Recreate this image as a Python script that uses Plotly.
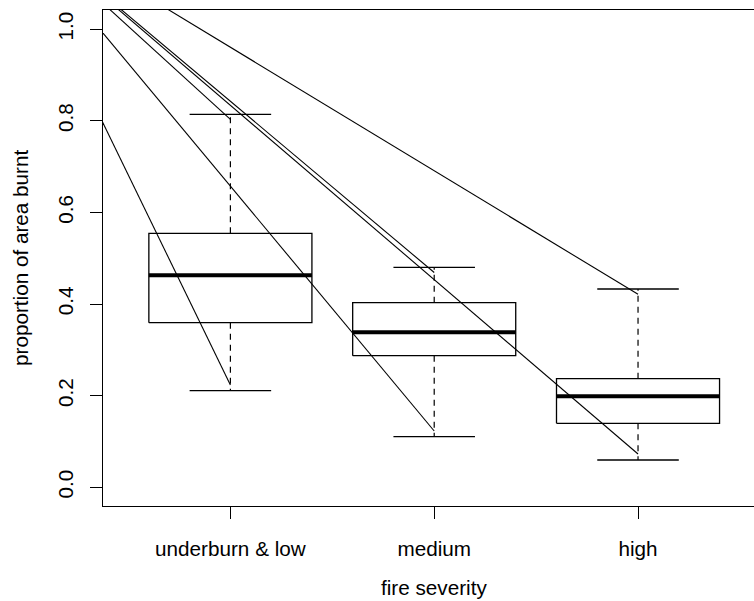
import plotly.graph_objects as go

# ---- data ----
categories = ["underburn & low", "medium", "high"]
positions = [1, 2, 3]
q1 = [0.3593, 0.2873, 0.1397]
medians = [0.4628, 0.3384, 0.1986]
q3 = [0.5545, 0.4030, 0.2371]
whisker_low = [0.2109, 0.1105, 0.0596]
whisker_high = [0.8142, 0.4802, 0.4329]

# overlaid straight lines: start (x0, y0) -> end (x1, y1)
seg_x0 = [0, 0, 0, 0, 0, 0]
seg_y0 = [1.1386, 1.1920, 1.2085, 1.2163, 1.2145, 1.2303]
seg_x1 = [1, 2, 1, 2, 3, 3]
seg_y1 = [0.2233, 0.1229, 0.8033, 0.4689, 0.0727, 0.4213]

y_ticks = [0.0, 0.2, 0.4, 0.6, 0.8, 1.0]

# ---- style ----
BOX_HALF = 0.4
CAP_HALF = 0.2
FONT = "Liberation Sans, Arial, Helvetica, sans-serif"
FS = 20.7
INK = "black"

fig = go.Figure()

# boxes
bx, by = [], []
for p, a, b in zip(positions, q1, q3):
    bx += [p - BOX_HALF, p + BOX_HALF, p + BOX_HALF, p - BOX_HALF, p - BOX_HALF, None]
    by += [a, a, b, b, a, None]
fig.add_trace(go.Scatter(x=bx, y=by, mode="lines", line=dict(color=INK, width=1.3),
                         hoverinfo="skip", showlegend=False))

# medians
mx, my = [], []
for p, m in zip(positions, medians):
    mx += [p - BOX_HALF, p + BOX_HALF, None]
    my += [m, m, None]
fig.add_trace(go.Scatter(x=mx, y=my, mode="lines", line=dict(color=INK, width=4),
                         hoverinfo="skip", showlegend=False))

# dashed whiskers
wx, wy = [], []
for p, a, b, lo, hi in zip(positions, q1, q3, whisker_low, whisker_high):
    wx += [p, p, None, p, p, None]
    wy += [b, hi, None, a, lo, None]
fig.add_trace(go.Scatter(x=wx, y=wy, mode="lines",
                         line=dict(color=INK, width=1.2, dash="6px,5px"),
                         hoverinfo="skip", showlegend=False))

# caps
cx, cy = [], []
for p, lo, hi in zip(positions, whisker_low, whisker_high):
    cx += [p - CAP_HALF, p + CAP_HALF, None, p - CAP_HALF, p + CAP_HALF, None]
    cy += [hi, hi, None, lo, lo, None]
fig.add_trace(go.Scatter(x=cx, y=cy, mode="lines", line=dict(color=INK, width=1.3),
                         hoverinfo="skip", showlegend=False))

# straight lines
sx, sy = [], []
for a, b, c, d in zip(seg_x0, seg_y0, seg_x1, seg_y1):
    sx += [a, c, None]
    sy += [b, d, None]
fig.add_trace(go.Scatter(x=sx, y=sy, mode="lines", line=dict(color=INK, width=1.1),
                         hoverinfo="skip", showlegend=False))

fig.update_layout(
    width=754, height=601,
    margin=dict(l=103, r=0, t=10, b=95, autoexpand=False),
    paper_bgcolor="white", plot_bgcolor="white",
    font=dict(family=FONT, size=FS, color=INK),
    showlegend=False,
    xaxis=dict(range=[0.375, 3.569], tickvals=positions, ticktext=categories,
               showgrid=False, zeroline=False, showline=True, mirror=True,
               linecolor=INK, linewidth=1.3, ticks="outside", ticklen=12,
               tickwidth=1.3, tickcolor=INK, ticklabelstandoff=12,
               tickfont=dict(size=FS, family=FONT)),
    yaxis=dict(range=[-0.0408, 1.0419], tickvals=y_ticks,
               ticktext=[f"{v:.1f}" for v in y_ticks], tickangle=-90,
               showgrid=False, zeroline=False, showline=True, mirror=False,
               linecolor=INK, linewidth=1.3, ticks="outside", ticklen=12,
               tickwidth=1.3, tickcolor=INK, ticklabelstandoff=9,
               tickfont=dict(size=FS, family=FONT)),
    annotations=[
        dict(text="fire severity", x=2, xref="x", y=-0.1653, yref="paper",
             xanchor="center", yanchor="middle", showarrow=False,
             font=dict(size=FS, family=FONT, color=INK)),
        dict(text="proportion of area burnt", x=(20 - 103) / 651, xref="paper",
             y=0.5, yref="paper", textangle=-90, xanchor="center",
             yanchor="middle", showarrow=False,
             font=dict(size=FS, family=FONT, color=INK)),
    ],
)

fig.write_html(
    "out.html",
    config={"displayModeBar": False},
    post_script="document.body.style.margin='0';document.body.style.overflow='hidden';",
)
